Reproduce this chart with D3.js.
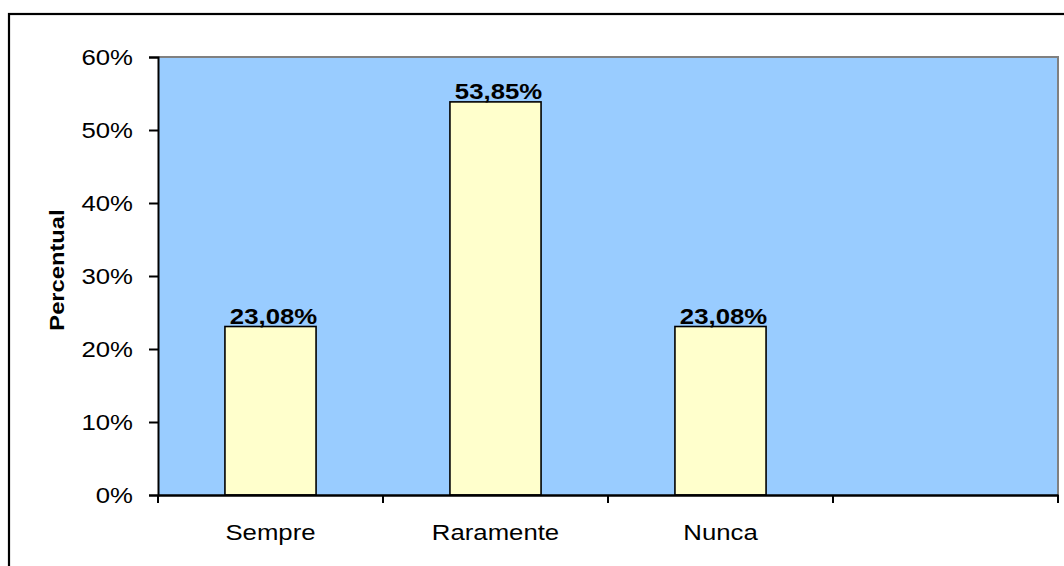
<!DOCTYPE html>
<html>
<head>
<meta charset="utf-8">
<script src="https://cdn.jsdelivr.net/npm/d3@7"></script>
<style>
  html, body { margin: 0; padding: 0; background: #fff; }
  svg { display: block; }
  text { font-family: "Liberation Sans", Arial, sans-serif; fill: #000; }
</style>
</head>
<body>
<svg id="chart" width="1064" height="566"></svg>
<script>
// Response categories (the fourth slot is left empty)
const categories = ["Sempre", "Raramente", "Nunca", ""];
// Share of responses per category, in percent
const values = [23.08, 53.85, 23.08, null];
// Labels printed above the bars
const valueLabels = ["23,08%", "53,85%", "23,08%", null];
// Y axis ticks
const yTicks = [0, 10, 20, 30, 40, 50, 60];
const yTickLabels = ["0%", "10%", "20%", "30%", "40%", "50%", "60%"];

const W = 1064, H = 566;
const plot = { left: 158, top: 57, right: 1058, bottom: 495 };
const stretch = 1.17;   // wide text rendering
const fs = 22;

const svg = d3.select("#chart");

// Outer frame
svg.append("rect")
  .attr("x", 9).attr("y", 14)
  .attr("width", W + 20).attr("height", H + 20)
  .attr("fill", "#fff").attr("stroke", "#000").attr("stroke-width", 2.2);

const x = d3.scaleBand()
  .domain(categories.map((d, i) => i))
  .range([plot.left, plot.right])
  .padding(0);

const y = d3.scaleLinear()
  .domain([0, 60])
  .range([plot.bottom, plot.top]);

// Plot area
svg.append("rect")
  .attr("x", plot.left).attr("y", plot.top)
  .attr("width", plot.right - plot.left).attr("height", plot.bottom - plot.top)
  .attr("fill", "#99CCFF");
svg.append("path")
  .attr("d", `M${plot.left},${plot.top}H${plot.right}V${plot.bottom}`)
  .attr("fill", "none").attr("stroke", "#808080").attr("stroke-width", 2);

// Bars
const barW = x.bandwidth() * 0.405;
const data = categories.map((c, i) => ({ c, i, v: values[i], label: valueLabels[i] }))
  .filter(d => d.v != null);

svg.append("g").selectAll("rect")
  .data(data).join("rect")
  .attr("x", d => x(d.i) + x.bandwidth() / 2 - barW / 2)
  .attr("y", d => y(d.v))
  .attr("width", barW)
  .attr("height", d => y(0) - y(d.v))
  .attr("fill", "#FFFFCC")
  .attr("stroke", "#000")
  .attr("stroke-width", 1.6);

// Helper for horizontally stretched text
function stretchedText(g, tx, ty, str, opts = {}) {
  return g.append("g").attr("transform", `translate(${tx},${ty}) scale(${stretch},1)`)
    .append("text")
    .attr("text-anchor", opts.anchor || "middle")
    .attr("font-size", opts.size || fs)
    .attr("font-weight", opts.weight || "normal")
    .text(str);
}

// Value labels
const labelsG = svg.append("g");
data.forEach(d => {
  stretchedText(labelsG, x(d.i) + x.bandwidth() / 2 + 3, y(d.v) - 3, d.label, { weight: "bold" });
});

// Y axis
const yAxis = svg.append("g")
  .attr("transform", `translate(${plot.left},0)`)
  .call(d3.axisLeft(y).tickValues(yTicks).tickSize(9).tickFormat(""));
yAxis.select(".domain").attr("stroke", "#000").attr("stroke-width", 2);
yAxis.selectAll(".tick line").attr("stroke", "#000").attr("stroke-width", 2);

const yLabG = svg.append("g");
yTicks.forEach((t, i) => {
  stretchedText(yLabG, 133, y(t) + 8, yTickLabels[i], { anchor: "end" });
});

// X axis
const xAxis = svg.append("g")
  .attr("transform", `translate(0,${plot.bottom})`)
  .call(d3.axisBottom(x).tickSize(0).tickFormat(""));
xAxis.select(".domain").attr("stroke", "#000").attr("stroke-width", 2.5);
const boundaries = d3.range(categories.length + 1).map(i => plot.left + i * x.bandwidth());
svg.append("g").selectAll("line")
  .data(boundaries).join("line")
  .attr("x1", d => d).attr("x2", d => d)
  .attr("y1", plot.bottom).attr("y2", plot.bottom + 8)
  .attr("stroke", "#000").attr("stroke-width", 2);

const xLabG = svg.append("g");
categories.forEach((c, i) => {
  if (c) stretchedText(xLabG, x(i) + x.bandwidth() / 2, 540, c);
});

// Y axis title
svg.append("g")
  .attr("transform", `translate(64,270) rotate(-90) scale(1.13,1)`)
  .append("text")
  .attr("text-anchor", "middle")
  .attr("font-size", 21)
  .attr("font-weight", "bold")
  .text("Percentual");
</script>
</body>
</html>
